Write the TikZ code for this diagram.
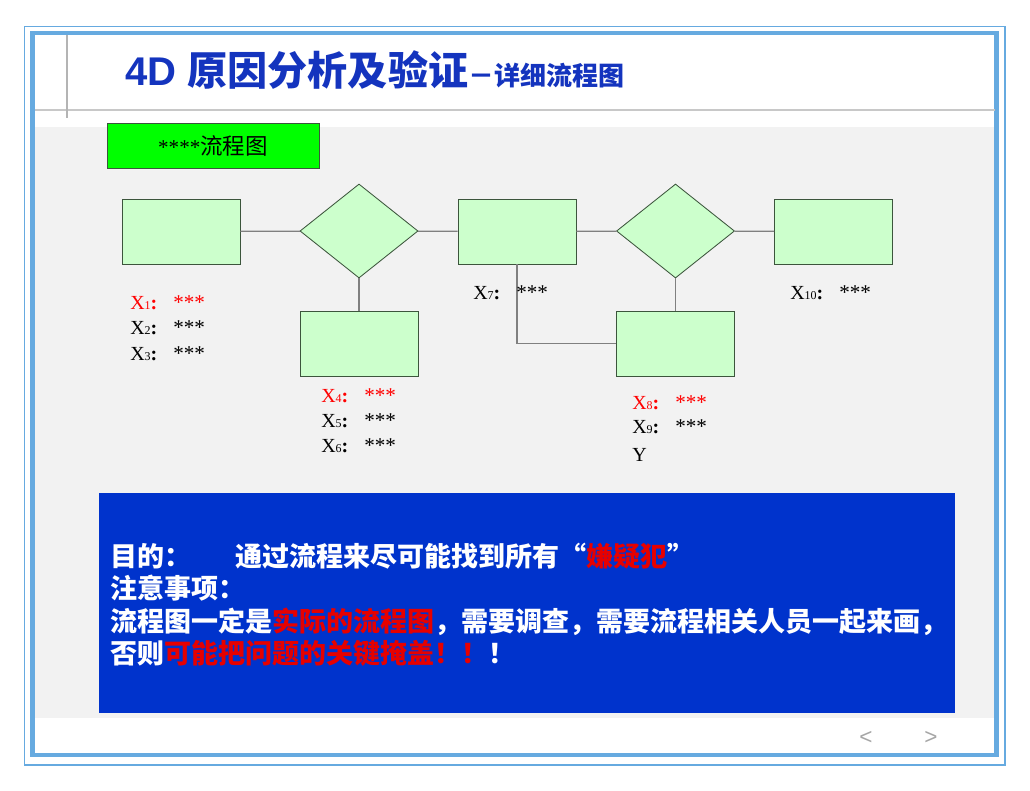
\documentclass[tikz,border=0pt]{standalone}
\usepackage{fontspec}
\setmainfont{Liberation Serif}
\newfontfamily\cjk{Noto Sans CJK SC}
\newfontfamily\arial{Liberation Sans}
\usetikzlibrary{shapes.geometric}

\definecolor{frameblue}{RGB}{102,170,224}
\definecolor{titleblue}{RGB}{20,52,190}
\definecolor{pagegrey}{RGB}{242,242,242}
\definecolor{rulegrey}{RGB}{200,200,200}
\definecolor{boxgreen}{RGB}{204,255,204}
\definecolor{boxline}{RGB}{60,85,60}
\definecolor{linkgrey}{RGB}{128,128,128}
\definecolor{noteblue}{RGB}{0,51,204}
\definecolor{hotred}{RGB}{230,0,0}

\newcommand{\xlab}[2]{X{\fontsize{8.5}{8.5}\selectfont #1}\textbf{:}\hspace{0.4cm}{\fontsize{15}{15}\selectfont #2}}

\begin{document}
\begin{tikzpicture}[x=0.025cm, y=-0.025cm,
        stepbox/.style={rectangle, draw=boxline, fill=boxgreen, line width=0.6pt, minimum width=2.95cm, minimum height=1.625cm, inner sep=0pt},
        decision/.style={diamond, draw=boxline, fill=boxgreen, line width=0.6pt, minimum width=2.95cm, minimum height=2.35cm, inner sep=0pt},
        link/.style={draw=linkgrey, line width=0.9pt},
        xtag/.style={anchor=base west, inner sep=0pt, font=\fontsize{14.2}{14.2}\selectfont},
        noteline/.style={anchor=base west, inner sep=0pt, text=white, font=\cjk\bfseries\fontsize{19.2}{22}\selectfont}
    ]
    \useasboundingbox (0,0) rectangle (1030,790);

    % Page
    \fill[pagegrey] (35,127) rectangle (995,718);
    \draw[frameblue, line width=1.4pt] (24.5,26.5) rectangle (1004.5,764.5);
    \draw[frameblue, line width=3pt] (32.5,33) rectangle (996.5,755);
    \draw[rulegrey, line width=0.8pt] (35,110) -- (995,110);
    \draw[rulegrey!90!black, line width=1.3pt] (67,35) -- (67,118);

    % Title
    \node[anchor=base west, inner sep=0pt, text=titleblue] (title) at (125,85)
        {{\arial\bfseries\fontsize{28.5}{28.5}\selectfont 4D }{\cjk\bfseries\fontsize{28.5}{28.5}\selectfont 原因分析及验证}{\cjk\bfseries\fontsize{18.5}{18.5}\selectfont －详细流程图}};

    \node[rectangle, draw=boxline, fill=green, line width=0.6pt, minimum width=5.3cm, minimum height=1.125cm, inner sep=0pt]
        (chart) at (213,145.5) {{\fontsize{15}{15}\selectfont ****}{\cjk\fontsize{16}{16}\selectfont 流程图}};

    % Flow
    \node[stepbox] (box1) at (181,231.5) {};
    \node[decision] (dia1) at (359,231) {};
    \node[stepbox] (box2) at (359,343.5) {};
    \node[stepbox] (box3) at (517,231.5) {};
    \node[decision] (dia2) at (675.5,231) {};
    \node[stepbox] (box4) at (675.5,343.5) {};
    \node[stepbox] (box5) at (833.5,231.5) {};

    \draw[link] (box1) -- (dia1);
    \draw[link] (dia1) -- (box3);
    \draw[link] (dia1) -- (box2);
    \draw[link] (box3) -- (dia2);
    \draw[link] (dia2) -- (box5);
    \draw[link] (dia2) -- (box4);
    \draw[link] (box3.south) |- (box4.west);

    % Labels
    \node[xtag, text=red] (x1) at (130,309) {\xlab{1}{***}};
    \node[xtag] (x2) at (130,334) {\xlab{2}{***}};
    \node[xtag] (x3) at (130,360) {\xlab{3}{***}};
    \node[xtag, text=red] (x4) at (321,402) {\xlab{4}{***}};
    \node[xtag] (x5) at (321,427) {\xlab{5}{***}};
    \node[xtag] (x6) at (321,452) {\xlab{6}{***}};
    \node[xtag] (x7) at (473,299) {\xlab{7}{***}};
    \node[xtag, text=red] (x8) at (632,409) {\xlab{8}{***}};
    \node[xtag] (x9) at (632,433) {\xlab{9}{***}};
    \node[xtag] (y) at (632,461) {Y};
    \node[xtag] (x10) at (790,299) {\xlab{10}{***}};

    % Notes
    \node[rectangle, fill=noteblue, minimum width=21.375cm, minimum height=5.5cm, inner sep=0pt, anchor=north west] (goal) at (99,493) {};
    \node[noteline] (aim) at (110,566) {目的：\hspace{1.1cm}通过流程来尽可能找到所有“{\color{hotred}嫌疑犯}”};
    \node[noteline] (care) at (110,598) {注意事项：};
    \node[noteline] (rule1) at (110,631) {流程图一定是{\color{hotred}实际的流程图}，需要调查，需要流程相关人员一起来画，};
    \node[noteline] (rule2) at (110,663) {否则{\color{hotred}可能把问题的关键掩盖！！}！};

    % Pager
    \node[text=gray!70, font=\arial\fontsize{16}{16}\selectfont] (prev) at (866,738) {<};
    \node[text=gray!70, font=\arial\fontsize{16}{16}\selectfont] (next) at (931,738) {>};

\end{tikzpicture}
\end{document}
